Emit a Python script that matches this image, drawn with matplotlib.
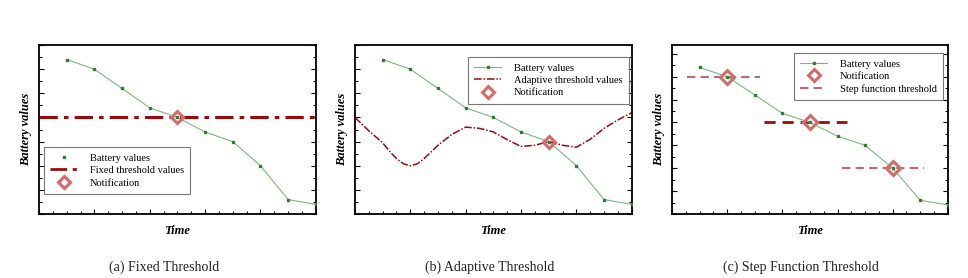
import matplotlib
matplotlib.use("Agg")
import matplotlib.pyplot as plt
from matplotlib.lines import Line2D
from matplotlib.ticker import MultipleLocator

plt.rcParams["font.family"] = ["Liberation Serif", "DejaVu Serif"]

# --- data ------------------------------------------------------------------------------
time = [1, 2, 3, 4, 5, 6, 7, 8, 9, 10]
battery = [6.4, 6.0, 5.2, 4.4, 4.0, 3.4, 3.0, 2.0, 0.6, 0.4]

fixed_threshold = 4.0
fixed_notify = (5, 4.0)

adapt_time = [0, 0.5, 1, 1.25, 1.5, 1.75, 2, 2.25, 2.5, 3, 3.5, 4, 4.5, 5, 5.5, 6, 6.5, 7,
              7.5, 8, 8.5, 9, 9.5, 10]
adapt_values = [4.0, 3.45, 2.95, 2.6, 2.3, 2.08, 2.0, 2.08, 2.3, 2.85, 3.3, 3.6, 3.55, 3.4,
                3.08, 2.8, 2.85, 3.0, 2.85, 2.77, 3.1, 3.55, 3.9, 4.2]
adapt_notify = (7, 3.0)

step_levels = [6.0, 4.0, 2.0]
step_starts = [0.55, 3.35, 6.15]
step_ends = [3.2, 6.35, 9.15]
step_notify_t = [2, 5, 8]

captions = ["(a) Fixed Threshold", "(b) Adaptive Threshold", "(c) Step Function Threshold"]

# --- styles -----------------------------------------------------------------------------
GREEN_LINE = "#7cb87c"
GREEN_DOT = "#2f7d2f"
DARK_RED = "#9a0c0c"
PINK = "#d46a6a"
STEP_LIGHT = "#c06a70"


def style_axes(ax, ymax):
    ax.set_xlim(0, 10)
    ax.set_ylim(0, ymax)
    ax.xaxis.set_major_locator(MultipleLocator(2))
    ax.xaxis.set_minor_locator(MultipleLocator(0.5))
    ax.yaxis.set_major_locator(MultipleLocator(1))
    ax.yaxis.set_minor_locator(MultipleLocator(0.5))
    ax.tick_params(which="both", direction="in", left=True, right=True, bottom=True, top=False,
                   labelleft=False, labelbottom=False, width=0.8)
    ax.tick_params(which="major", length=3.5)
    ax.tick_params(which="minor", length=2.5)
    for s in ax.spines.values():
        s.set_linewidth(1.3)
    ax.set_xlabel("Time", fontsize=9, fontweight="bold", style="italic", labelpad=8)
    ax.set_ylabel("Battery values", fontsize=9, fontweight="bold", style="italic", labelpad=5)


def battery_line(ax):
    ax.plot(time, battery, color=GREEN_LINE, lw=0.8, marker="s", ms=1.7,
            mfc=GREEN_DOT, mec=GREEN_DOT, zorder=3)


def notify(ax, x, y, ms=7):
    ax.plot([x], [y], ls="none", marker="D", ms=ms, mfc="none", mec=PINK, mew=2.2, zorder=4)


def legend(ax, handles, labels, x0, ytop):
    leg = ax.legend(handles, labels, loc="upper left", bbox_to_anchor=(x0, ytop),
                    borderaxespad=0, fontsize=7.5, fancybox=False, handlelength=2.6,
                    labelspacing=0.3, borderpad=0.6, handletextpad=1.2)
    leg.get_frame().set_edgecolor("#555555")
    leg.get_frame().set_linewidth(0.8)


notify_handle = Line2D([], [], ls="none", marker="D", ms=6.5, mfc="none", mec=PINK, mew=2.2)
batt_handle = Line2D([], [], color=GREEN_LINE, lw=0.8, marker="s", ms=1.7,
                     mfc=GREEN_DOT, mec=GREEN_DOT)

fig = plt.figure(figsize=(9.68, 2.78), dpi=100)
ax_a = fig.add_axes([0.0403, 0.230, 0.286, 0.608])
ax_b = fig.add_axes([0.3667, 0.230, 0.286, 0.608])
ax_c = fig.add_axes([0.6942, 0.230, 0.285, 0.608])

# (a) fixed threshold
style_axes(ax_a, 7)
battery_line(ax_a)
ax_a.axhline(fixed_threshold, color=DARK_RED, lw=2.2, dashes=(6, 2, 1.5, 2), zorder=2)
notify(ax_a, *fixed_notify, ms=6.5)
legend(ax_a,
       [Line2D([], [], ls="none", marker="s", ms=1.9, mfc=GREEN_DOT, mec=GREEN_DOT),
        Line2D([], [], color=DARK_RED, lw=2.0, dashes=(6, 2, 1.5, 2)),
        notify_handle],
       ["Battery values", "Fixed threshold values", "Notification"], 0.018, 0.396)

# (b) adaptive threshold
style_axes(ax_b, 7)
battery_line(ax_b)
ax_b.plot(adapt_time, adapt_values, color=DARK_RED, lw=1.1, dashes=(5, 1.2, 1, 1.2), zorder=2)
notify(ax_b, *adapt_notify, ms=6.5)
legend(ax_b,
       [batt_handle, Line2D([], [], color=DARK_RED, lw=1.1, dashes=(5, 1.2, 1, 1.2)),
        notify_handle],
       ["Battery values", "Adaptive threshold values", "Notification"], 0.408, 0.929)

# (c) step function threshold
style_axes(ax_c, 7.38)
battery_line(ax_c)
for i, (lvl, x0, x1) in enumerate(zip(step_levels, step_starts, step_ends)):
    col, lw = (DARK_RED, 2.0) if i == 1 else (STEP_LIGHT, 1.5)
    ax_c.plot([x0, x1], [lvl, lvl], color=col, lw=lw, ls=(0, (4, 2.5)), zorder=2)
for t, lvl in zip(step_notify_t, step_levels):
    notify(ax_c, t, lvl)
legend(ax_c,
       [batt_handle, notify_handle,
        Line2D([], [], color=STEP_LIGHT, lw=1.5, ls=(0, (4, 2.5)))],
       ["Battery values", "Notification", "Step function threshold"], 0.442, 0.953)

for x, cap in zip([0.170, 0.506, 0.827], captions):
    fig.text(x, 0.04, cap, ha="center", va="center", fontsize=10, color="#222222")

fig.savefig("out.png", dpi=100)
